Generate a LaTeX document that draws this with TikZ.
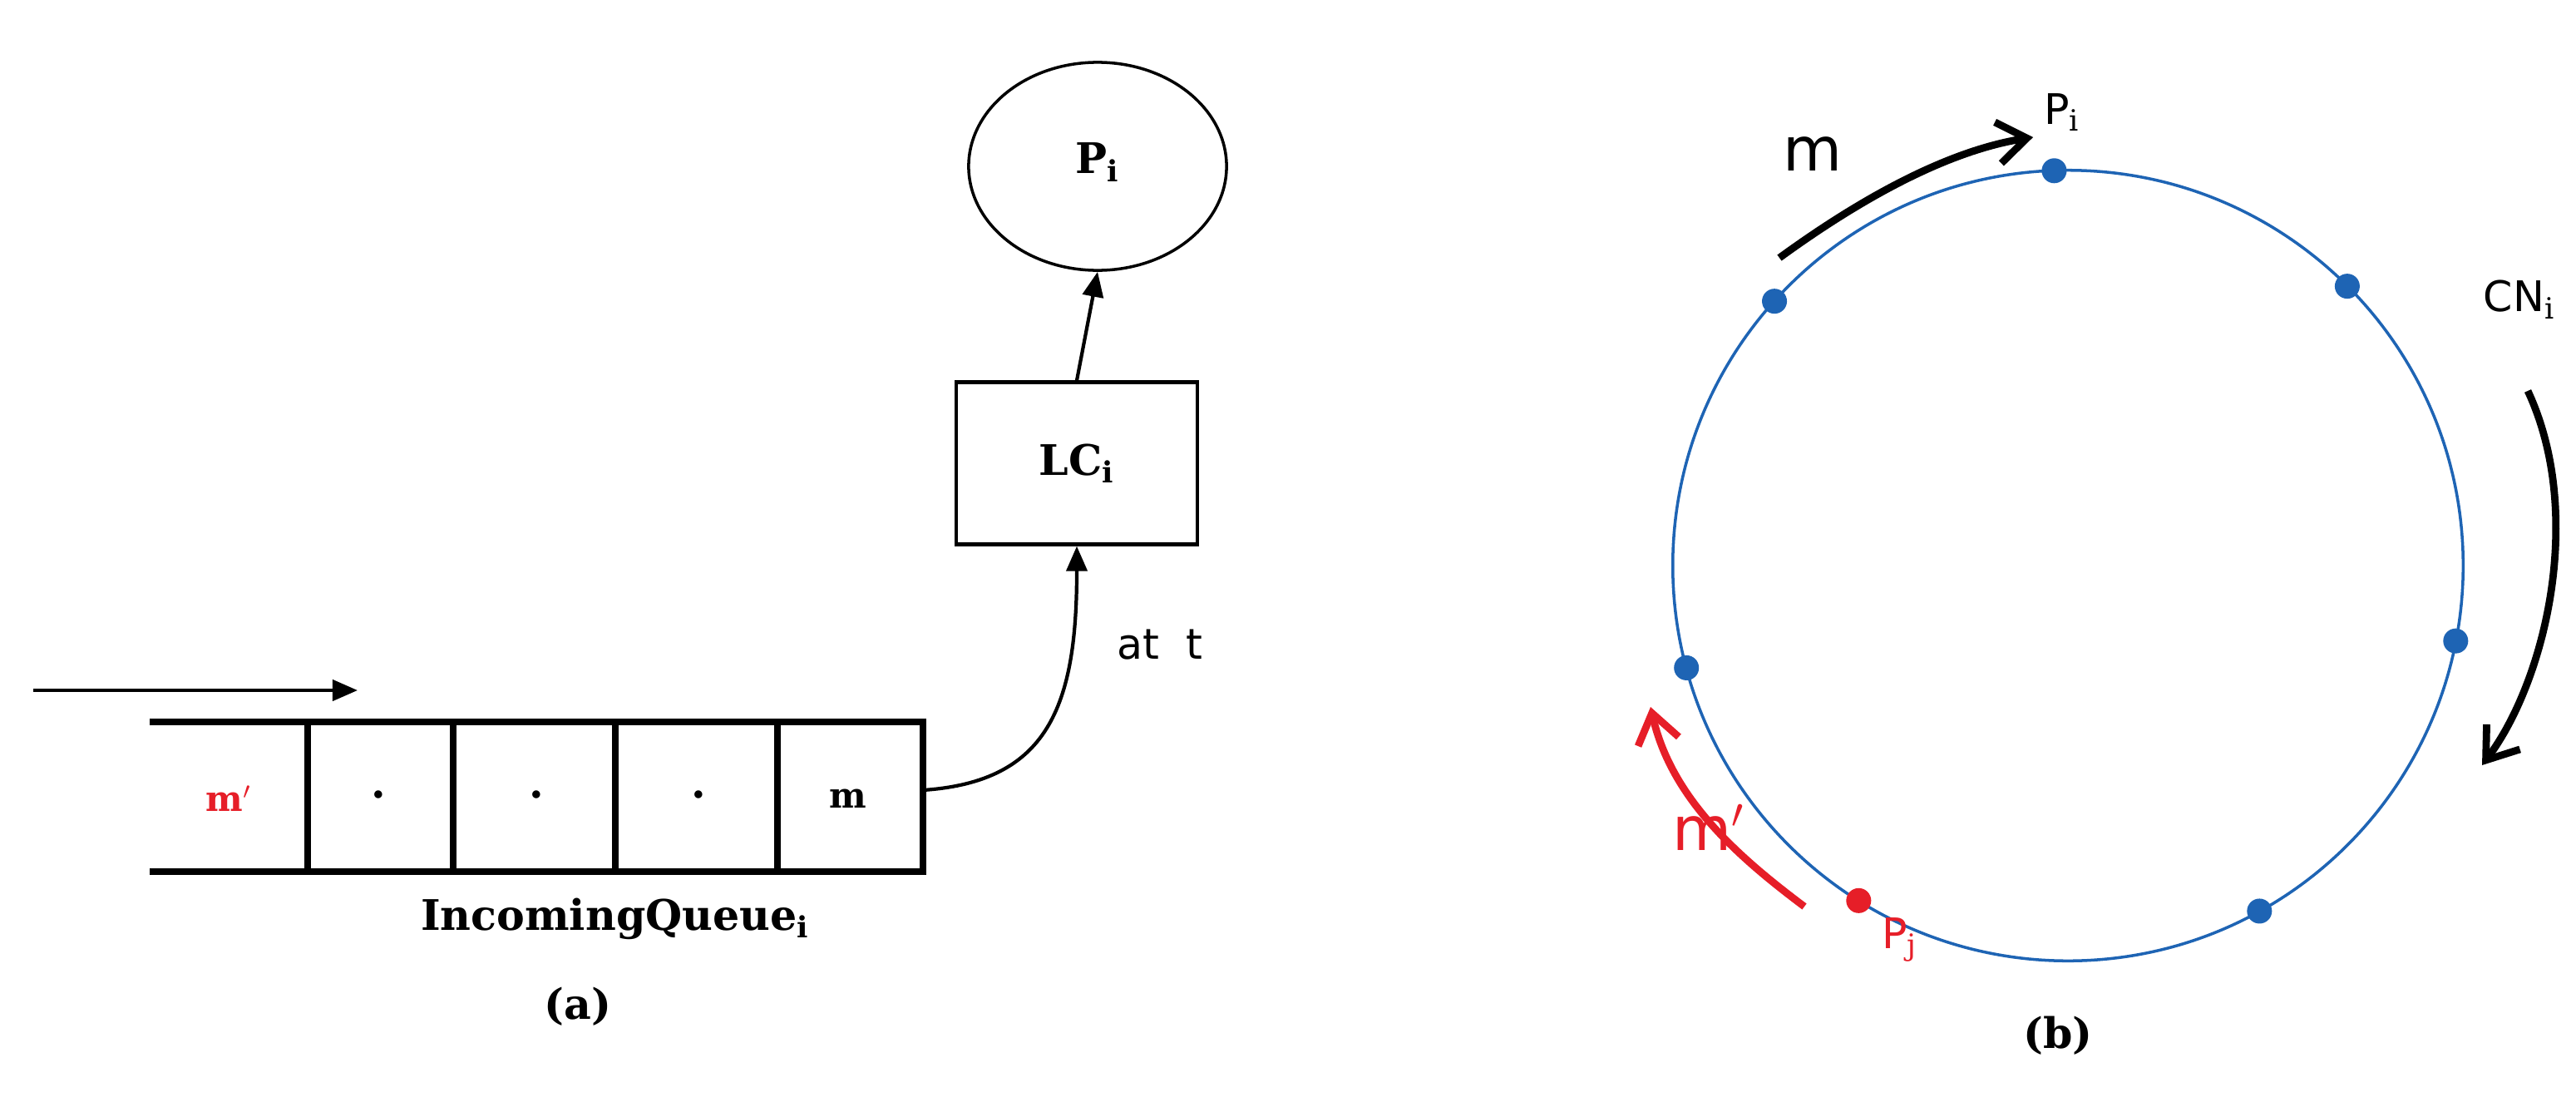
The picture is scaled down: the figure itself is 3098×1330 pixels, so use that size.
\documentclass[tikz,border=0pt]{standalone}
\usepackage{fontspec}
\setmainfont{DejaVu Serif}
\newfontfamily\sansf{DejaVu Sans}
\usetikzlibrary{arrows.meta,shapes.geometric,calc}
\definecolor{rd}{RGB}{230,30,40}
\definecolor{bl}{RGB}{30,100,180}
\begin{document}
\begin{tikzpicture}[x=0.01cm,y=-0.01cm,
  qline/.style={line width=2.2pt},
  dot/.style={circle,fill=bl,inner sep=0pt,minimum size=0.3cm},
  arr/.style={-{Triangle[length=0.3cm,width=0.25cm]},line width=1.2pt},
  carr/.style={-{Straight Barb[length=0.35cm,width=0.5cm]},line width=2.5pt}]
\useasboundingbox (0,0) rectangle (3098,1330);
% (a)
\node[draw,ellipse,line width=1pt,minimum width=3.1cm,minimum height=2.5cm] (P) at (1320,200) {};
\node[font=\bfseries\Large] at (1320,195) {P$_\mathbf{i}$};
\node[draw,line width=1.2pt,minimum width=2.9cm,minimum height=1.95cm,font=\bfseries\Large] (LC) at (1295,557) {LC$_\mathbf{i}$};
\draw[arr] (LC.north) -- (P.south);
\coordinate (qe) at (1110,950);
\draw[arr] (qe) .. controls (1260,940) and (1295,850) .. (LC.south);
\node[font=\sansf\Large] at (1395,775) {at\ \ t};
\draw[qline] (180,868) -- (1110,868) -- (1110,1048) -- (180,1048);
\foreach \x in {370,545,740,935} \draw[qline] (\x,868) -- (\x,1048);
\node[font=\bfseries\large,text=rd] at (275,960) {m$'$};
\foreach \x in {455,645,840} \node[font=\bfseries\Large] at (\x,955) {.};
\node[font=\bfseries\large] at (1020,960) {m};
\coordinate (a1) at (40,830); \coordinate (a2) at (430,830);
\draw[arr] (a1) -- (a2);
\node[font=\bfseries\Large] at (740,1105) {IncomingQueue$_\mathbf{i}$};
\node[font=\bfseries\Large] at (695,1210) {(a)};
% (b)
\draw[bl,line width=1pt] (2487,680) circle (4.75cm);
\foreach \a/\n in {-92/d1,-45/d2,11/d3,61/d4,165/d7,-138/d8} \node[dot] (\n) at ($(2487,680)+(\a:475)$) {};
\node[dot,fill=rd] (d5) at ($(2487,680)+(122:475)$) {};
\node[font=\sansf\Large] at (2480,135) {P$_\mathrm{i}$};
\node[font=\sansf\huge] at (2180,185) {m};
\coordinate (b1) at (2140,310); \coordinate (b2) at (2445,165);
\draw[carr] (b1) .. controls (2250,230) and (2350,180) .. (b2);
\node[font=\sansf\Large] at (3030,360) {CN$_\mathrm{i}$};
\coordinate (c1) at (3040,470); \coordinate (c2) at (2985,920);
\draw[carr] (c1) .. controls (3110,620) and (3060,820) .. (c2);
\coordinate (r1) at (2170,1090); \coordinate (r2) at (1985,850);
\draw[carr,rd] (r1) .. controls (2090,1030) and (2010,960) .. (r2);
\node[font=\sansf\huge,text=rd] at (2055,995) {m$'$};
\node[font=\sansf\Large,text=rd] at (2285,1130) {P$_\mathrm{j}$};
\node[font=\bfseries\Large] at (2475,1245) {(b)};
\end{tikzpicture}
\end{document}
